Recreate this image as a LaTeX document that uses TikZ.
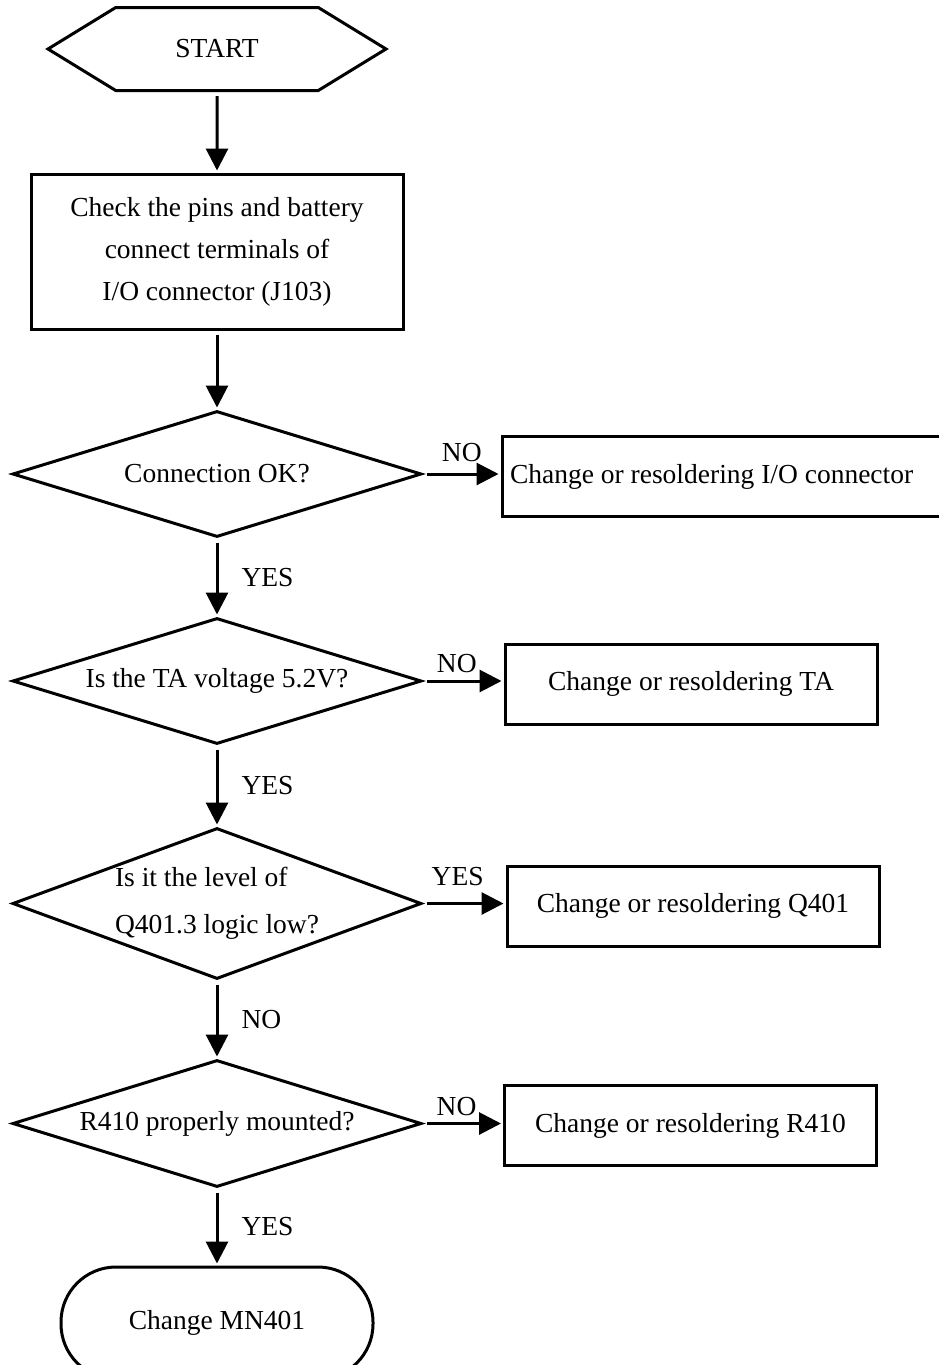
\documentclass[tikz,border=0pt]{standalone}
\usepackage{fontspec}
\setmainfont{Liberation Serif}
\usetikzlibrary{shapes,arrows.meta,positioning}
\tikzstyle{startnode} = [signal, signal to=west and east, signal pointer angle=63, minimum width=338pt, minimum height=83pt, draw=black]
\tikzstyle{checkbox} = [rectangle, minimum width=372pt, minimum height=155pt, align=center, draw=black]
\tikzstyle{decision} = [diamond, aspect=3.2, minimum width=409pt, minimum height=126pt, inner sep=0pt, align=center, draw=black]
\tikzstyle{repair} = [rectangle, minimum width=372pt, minimum height=80pt, align=center, draw=black]
\tikzstyle{endnode} = [rectangle, rounded corners=55pt, minimum width=312pt, minimum height=112pt, align=center, draw=black]
\tikzstyle{arrow} = [-{Triangle[length=22pt,width=22pt]}, shorten <=4pt, shorten >=2pt]
\tikzstyle{answer} = [inner sep=9pt]

\begin{document}
\begin{tikzpicture}[x=1pt, y=-1pt, node distance=210pt, line width=3pt, every node/.style={font=\fontsize{27.5pt}{42pt}\selectfont}]
\useasboundingbox (0,0) rectangle (938,1365);

\node [startnode] (start) at (217,49) {START};
\node [checkbox, below of=start, yshift=7.5pt] (check) {Check the pins and battery\\connect terminals of\\I/O connector (J103)};
\node [decision, below of=check, yshift=-12.5pt] (connOK) {Connection OK?};
\node [repair, right of=connOK, xshift=297.5pt, yshift=-2.5pt, minimum width=445pt, text width=429pt, inner sep=8pt, align=flush left] (fixIO) {Change or resoldering I/O connector};
\node [decision, below of=connOK, yshift=3pt] (taVolt) {Is the TA voltage 5.2V?};
\node [repair, right of=taVolt, xshift=264pt, yshift=-3pt] (fixTA) {Change or resoldering TA};
\node [decision, below of=taVolt, yshift=-12.5pt, aspect=2.7, minimum height=151pt, align=flush left, font=\fontsize{27.5pt}{47pt}\selectfont] (qLow) {Is it the level of\\Q401.3 logic low?};
\node [repair, right of=qLow, xshift=266pt, yshift=-2.5pt] (fixQ) {Change or resoldering Q401};
\node [decision, below of=qLow, yshift=-10pt, minimum height=127pt] (rMount) {R410 properly mounted?};
\node [repair, right of=rMount, xshift=263.5pt, yshift=-2pt] (fixR) {Change or resoldering R410};
\node [endnode, below of=rMount, yshift=10.5pt] (mn401) {Change MN401};

\draw [arrow] (start) -- (check);
\draw [arrow] (check) -- (connOK);
\draw [arrow] (connOK) -- node [answer, right=14pt] {YES} (taVolt);
\draw [arrow] (taVolt) -- node [answer, right=14pt] {YES} (qLow);
\draw [arrow] (qLow) -- node [answer, right=14pt] {NO} (rMount);
\draw [arrow] (rMount) -- node [answer, right=14pt] {YES} (mn401);
\draw [arrow] (connOK.east) -- node [answer, above=2pt] {NO} (connOK.east -| fixIO.west);
\draw [arrow] (taVolt.east) -- node [answer, pos=0.42, above=-2pt] {NO} (taVolt.east -| fixTA.west);
\draw [arrow] (qLow.east) -- node [answer, pos=0.42, above=7pt] {YES} (qLow.east -| fixQ.west);
\draw [arrow] (rMount.east) -- node [answer, pos=0.42, above=-3pt] {NO} (rMount.east -| fixR.west);

\end{tikzpicture}
\end{document}
